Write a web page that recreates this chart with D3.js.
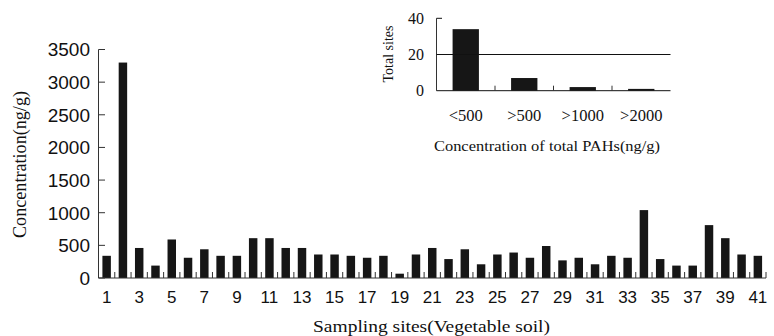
<!DOCTYPE html>
<html><head><meta charset="utf-8">
<script src="https://cdn.jsdelivr.net/npm/d3@7"></script>
<style>body{margin:0;background:#fff}svg{display:block}</style>
</head><body>
<script>
const sites = d3.range(1, 42);
const concentrations = [340,3300,460,190,590,310,440,340,340,610,610,460,460,360,360,340,310,340,66,360,
  460,290,440,210,360,390,310,490,270,310,210,340,310,1040,290,190,190,810,610,360,340];
const yTicks = [0,500,1000,1500,2000,2500,3000,3500];
const insetCats = ["<500", ">500", ">1000", ">2000"];
const insetCounts = [34, 7, 2, 1];
const insetTicks = [0, 20, 40];

const W = 774, H = 336;
const svg = d3.select("body").append("svg").attr("width", W).attr("height", H);
const sans = "'Liberation Sans', Arial, sans-serif";
const serif = "'Liberation Serif', 'Times New Roman', serif";
const barColor = "#161616";

// main chart
const x = d3.scaleBand().domain(sites).range([98.5, 766]).paddingInner(0.48).paddingOuter(0.24);
const y = d3.scaleLinear().domain([0, 3500]).range([278, 49.5]);
const g = svg.append("g");
g.selectAll("rect.bar").data(concentrations).enter().append("rect")
  .attr("x", (d, i) => x(sites[i])).attr("width", x.bandwidth())
  .attr("y", d => y(d)).attr("height", d => y(0) - y(d)).attr("fill", barColor);

// y axis
g.append("line").attr("x1", 98.5).attr("x2", 98.5).attr("y1", y(3500)).attr("y2", y(0)).attr("stroke", "#333");
g.selectAll("line.yt").data(yTicks).enter().append("line")
  .attr("x1", 98.5).attr("x2", 105).attr("y1", d => y(d)).attr("y2", d => y(d)).attr("stroke", "#333");
g.selectAll("text.yl").data(yTicks).enter().append("text")
  .attr("x", 90).attr("y", d => y(d)).attr("dy", "0.36em").attr("text-anchor", "end")
  .style("font-family", sans).style("font-size", "19px").attr("fill", "#111").text(d => d);

// x axis
g.append("line").attr("x1", 98.5).attr("x2", 766).attr("y1", y(0)).attr("y2", y(0)).attr("stroke", "#333");
const step = x.step();
g.selectAll("line.xt").data(sites).enter().append("line")
  .attr("x1", d => x(d) + x.bandwidth() / 2 + step / 2).attr("x2", d => x(d) + x.bandwidth() / 2 + step / 2)
  .attr("y1", y(0)).attr("y2", y(0) - 6).attr("stroke", "#333");
g.selectAll("text.xl").data(sites.filter(d => d % 2 === 1)).enter().append("text")
  .attr("x", d => x(d) + x.bandwidth() / 2).attr("y", 297).attr("dy", "0.36em").attr("text-anchor", "middle")
  .style("font-family", sans).style("font-size", "17px").attr("fill", "#111").text(d => d);

g.append("text").attr("x", 431.5).attr("y", 326).attr("dy", "0.35em").attr("text-anchor", "middle")
  .attr("textLength", 237).attr("lengthAdjust", "spacingAndGlyphs")
  .style("font-family", serif).style("font-size", "17.5px").attr("fill", "#111").text("Sampling sites(Vegetable soil)");
g.append("text").attr("transform", "translate(20,164.5) rotate(-90)").attr("dy", "0.35em").attr("text-anchor", "middle")
  .attr("textLength", 147).attr("lengthAdjust", "spacingAndGlyphs")
  .style("font-family", serif).style("font-size", "18.5px").attr("fill", "#111").text("Concentration(ng/g)");

// inset
const xi = d3.scaleBand().domain(insetCats).range([436.5, 670.5]).paddingInner(0.55).paddingOuter(0.275);
const yi = d3.scaleLinear().domain([0, 40]).range([90.7, 18.3]);
const gi = svg.append("g");
gi.selectAll("rect").data(insetCounts).enter().append("rect")
  .attr("x", (d, i) => xi(insetCats[i])).attr("width", xi.bandwidth())
  .attr("y", d => yi(d)).attr("height", d => yi(0) - yi(d)).attr("fill", barColor);
gi.append("line").attr("x1", 436.5).attr("x2", 436.5).attr("y1", yi(40)).attr("y2", yi(0)).attr("stroke", "#333");
gi.selectAll("line.yt").data(insetTicks).enter().append("line")
  .attr("x1", 436.5).attr("x2", d => d === 40 ? 442 : 670.5).attr("y1", d => yi(d)).attr("y2", d => yi(d))
  .attr("stroke", "#111");
gi.selectAll("line.xt").data(insetCats.slice(0, 3)).enter().append("line")
  .attr("x1", d => xi(d) + xi.bandwidth() / 2 + xi.step() / 2).attr("x2", d => xi(d) + xi.bandwidth() / 2 + xi.step() / 2)
  .attr("y1", yi(0)).attr("y2", yi(0) - 5).attr("stroke", "#333");
gi.selectAll("text.yl").data(insetTicks).enter().append("text")
  .attr("x", 424).attr("y", d => yi(d)).attr("dy", "0.35em").attr("text-anchor", "end")
  .style("font-family", serif).style("font-size", "16px").attr("fill", "#111").text(d => d);
gi.selectAll("text.xl").data(insetCats).enter().append("text")
  .attr("x", d => xi(d) + xi.bandwidth() / 2).attr("y", 115).attr("dy", "0.35em").attr("text-anchor", "middle")
  .style("font-family", serif).style("font-size", "16.5px").attr("fill", "#111").text(d => d);
gi.append("text").attr("transform", "translate(388,54) rotate(-90)").attr("dy", "0.35em").attr("text-anchor", "middle")
  .attr("textLength", 57).attr("lengthAdjust", "spacingAndGlyphs")
  .style("font-family", serif).style("font-size", "15px").attr("fill", "#111").text("Total sites");
gi.append("text").attr("x", 547).attr("y", 146).attr("dy", "0.35em").attr("text-anchor", "middle")
  .attr("textLength", 226).attr("lengthAdjust", "spacingAndGlyphs")
  .style("font-family", serif).style("font-size", "15.5px").attr("fill", "#111").text("Concentration of total PAHs(ng/g)");
</script>
</body></html>
